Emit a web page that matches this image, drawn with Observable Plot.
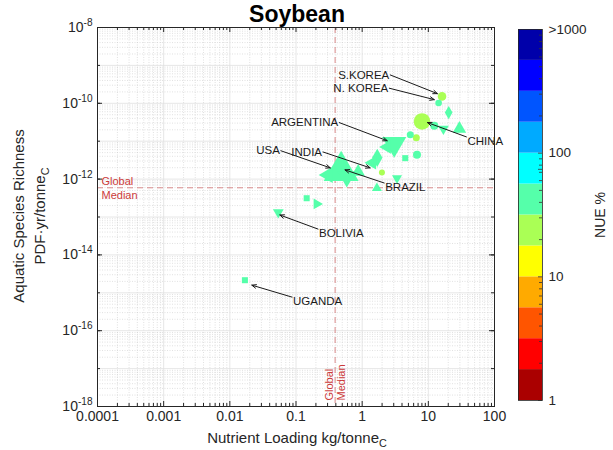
<!DOCTYPE html>
<html>
<head>
<meta charset="utf-8">
<script src="https://cdn.jsdelivr.net/npm/d3@7"></script>
<script src="https://cdn.jsdelivr.net/npm/@observablehq/plot@0.6"></script>
<style>
  body { margin: 0; background: #fff; font-family: "Liberation Sans", Arial, sans-serif; }
  #chart { position: relative; width: 613px; height: 450px; overflow: hidden; }
  #chart svg { position: absolute; top: 0; }
  .lbl { position: absolute; white-space: nowrap; color: #262626; line-height: 1; }
  .rot { transform: translate(-50%, -50%) rotate(-90deg); }
  .ctr { transform: translate(-50%, -50%); }
  .lbl sub { font-size: 0.72em; vertical-align: -0.4em; line-height: 0; }
</style>
</head>
<body>
<div id="chart"></div>
<script>
// ---- NUE colour classes (12 jet steps, four per decade from 1 % to 1000 %) ----
const nueColors = ["#aa0000", "#ff0000", "#ff5500", "#ffaa00", "#ffff00", "#aaff55",
                   "#55ffaa", "#00ffff", "#00aaff", "#0055ff", "#0000ff", "#0000aa"];
const nueBreaks = d3.range(1, 12).map(i => 10 ** (i / 4));
const nueTicks = [1, 10, 74, 100, 1000];
const nueTickLabels = ["1", "10", "74 GM", "100", ">1000"];

// ---- country footprints: soybean ----
const loading = [16.1, 14.3, 20.3, 8.03, 12.3, 16.9, 29.5, 6.58, 5.34, 3.05, 2.37, 4.48, 6.74,
                 1.69, 1.42, 1.99, 3.36, 1.67, 0.481, 0.305, 0.586, 0.87, 0.145, 0.206, 0.054, 0.0169];
const richness = [1.52e-10, 1.02e-10, 5.7e-11, 3.32e-11, 2.55e-11, 2.13e-11, 2.13e-11, 1.23e-11,
                  1.48e-11, 8.5e-12, 6.98e-12, 3.57e-12, 4.37e-12, 3.64e-12, 2.68e-12, 1.49e-12,
                  1.06e-12, 5.74e-13, 1.65e-12, 1.29e-12, 1.16e-12, 1.55e-12, 3.13e-13, 2.21e-13,
                  1.33e-13, 2.15e-15];
const nue = [24, 44, 41, 26, 47, 43, 39, 22, 45, 48, 42, 40, 46, 44, 49, 27, 41, 38, 45, 43,
             47, 42, 40, 44, 46, 42];
const production = [9.4, 5.6, 8.2, 35, 8.2, 8.2, 12.8, 6.3, 6.3, 41, 12.8, 5.9, 8.2, 15.4, 12.8,
                    4.6, 7, 7, 86, 18.4, 25, 12.8, 5.9, 8.2, 8.2, 5.9];
const group = ["A", "A", "C", "A", "A", "E", "D", "A", "A", "E", "F", "B", "A", "C", "F", "A",
               "E", "D", "D", "F", "E", "D", "B", "G", "E", "B"];

// ---- named countries: arrow tail (label anchor) and head ----
const countryNames = ["S.KOREA", "N. KOREA", "ARGENTINA", "CHINA", "USA", "INDIA", "BRAZIL", "BOLIVIA", "UGANDA"];
const tailLoad = [2.66, 2.57, 0.45, 37.6, 0.059, 0.256, 2.15, 0.215, 0.087];
const tailRichness = [5.6e-10, 2.5e-10, 3.1e-11, 1.3e-11, 5.6e-12, 5.2e-12, 7.9e-13, 4.8e-14, 7.7e-16];
const headLoad = [13.7, 12.3, 2.39, 9.7, 0.33, 1.32, 0.55, 0.057, 0.0215];
const headRichness = [1.8e-10, 1.25e-10, 1.03e-11, 3.1e-11, 1.98e-12, 1.98e-12, 1.75e-12, 1.13e-13, 1.59e-15];

// ---- global medians ----
const medianLoad = 0.39;
const medianRichness = 5.9e-13;

// ---- axis ticks ----
const xTicks = [1e-4, 1e-3, 1e-2, 1e-1, 1, 10, 100];
const xTickLabels = ["0.0001", "0.001", "0.01", "0.1", "1", "10", "100"];
const yTicks = [1e-18, 1e-16, 1e-14, 1e-12, 1e-10, 1e-8];

// marker shape per group
const groupSymbol = {A: "circle", B: "square", C: "diamond", D: "triangle", E: "triangle", F: "triangle", G: "triangle"};
const groupTurn = {A: 0, B: 0, C: 0, D: 0, E: 180, F: 270, G: 90};

const points = loading.map((x, i) => ({
  x, y: richness[i], nue: nue[i], prod: production[i], g: group[i]
})).sort((a, b) => b.prod - a.prod);

const notes = countryNames.map((name, i) => ({
  name, x1: tailLoad[i], y1: tailRichness[i], x2: headLoad[i], y2: headRichness[i],
  anchor: headLoad[i] > tailLoad[i] ? "end" : "start"
}));

const decades = (lo, hi) => d3.range(lo, hi + 1).map(e => 10 ** e);
const minors = (lo, hi) => d3.range(lo, hi).flatMap(e => d3.range(2, 10).map(m => m * 10 ** e));

const xMajor = decades(-4, 2), xMinor = minors(-4, 2);
const yMajor = decades(-18, -8), yMinor = minors(-18, -8);

const W = 613, H = 450, mL = 97, mR = 119, mT = 27, mB = 44;
const plotW = W - mL - mR, plotH = H - mT - mB;
const ink = "#262626";
const medianColor = "#d98a8a";
const font = '"Liberation Sans", Arial, sans-serif';

const color = {type: "threshold", domain: nueBreaks, range: nueColors};

const main = Plot.plot({
  width: W, height: H,
  marginLeft: mL, marginRight: mR, marginTop: mT, marginBottom: mB,
  style: {fontFamily: font, fontSize: "13px", color: ink, background: "transparent"},
  x: {type: "log", domain: [1e-4, 100], axis: null},
  y: {type: "log", domain: [1e-18, 1e-8], axis: null},
  color,
  r: {type: "sqrt", domain: [0, 100], range: [0, 14]},
  marks: [
    // grid
    Plot.ruleX(xMinor, {x: d => d, stroke: "#cccccc", strokeWidth: 0.6, strokeDasharray: "1,1.5"}),
    Plot.ruleY(yMinor, {y: d => d, stroke: "#cccccc", strokeWidth: 0.6, strokeDasharray: "1,1.5"}),
    Plot.ruleX(xMajor, {x: d => d, stroke: "#e0e0e0", strokeWidth: 0.8}),
    Plot.ruleY(yMajor, {y: d => d, stroke: "#e0e0e0", strokeWidth: 0.8}),
    // global medians
    Plot.ruleX([medianLoad], {x: d => d, stroke: medianColor, strokeWidth: 1, strokeDasharray: "6,4"}),
    Plot.ruleY([medianRichness], {y: d => d, stroke: medianColor, strokeWidth: 1, strokeDasharray: "6,4"}),
    Plot.text([medianRichness], {x: 1e-4, y: d => d, text: () => "Global\nMedian", textAnchor: "start",
      dx: 4, lineHeight: 1.2, fill: "#cc3a3a", fontSize: 11}),
    Plot.text([medianLoad], {x: d => d, y: 1e-18, text: () => "Global\nMedian", textAnchor: "start",
      rotate: -90, dy: -6, lineHeight: 1.05, fill: "#cc3a3a", fontSize: 11}),
    // countries
    Plot.dot(points, {
      x: "x", y: "y", r: "prod", fill: "nue",
      symbol: d => groupSymbol[d.g], rotate: d => groupTurn[d.g]
    }),
    // call-outs
    Plot.arrow(notes, {x1: "x1", y1: "y1", x2: "x2", y2: "y2", stroke: "#1a1a1a", strokeWidth: 1,
      headLength: 7, headAngle: 45}),
    Plot.text(notes.filter(d => d.anchor === "end"), {x: "x1", y: "y1", text: "name", textAnchor: "end",
      dx: -1, fill: "#1a1a1a", fontSize: 11.5}),
    Plot.text(notes.filter(d => d.anchor === "start"), {x: "x1", y: "y1", text: "name", textAnchor: "start",
      dx: 1, dy: 4, fill: "#1a1a1a", fontSize: 11.5}),
    // box and inward ticks
    Plot.frame({stroke: ink, strokeWidth: 1}),
    Plot.tickX(xMajor, {x: d => d, insetTop: plotH - 5, stroke: ink}),
    Plot.tickX(xMajor, {x: d => d, insetBottom: plotH - 5, stroke: ink}),
    Plot.tickX(xMinor, {x: d => d, insetTop: plotH - 3, stroke: ink}),
    Plot.tickX(xMinor, {x: d => d, insetBottom: plotH - 3, stroke: ink}),
    Plot.tickY(yTicks, {y: d => d, insetRight: plotW - 5, stroke: ink}),
    Plot.tickY(yTicks, {y: d => d, insetLeft: plotW - 5, stroke: ink}),
    Plot.tickY(yMajor, {y: d => d, insetRight: plotW - 3, stroke: ink}),
    Plot.tickY(yMajor, {y: d => d, insetLeft: plotW - 3, stroke: ink}),
    Plot.axisX(xTicks, {tickSize: 0, tickPadding: 5, fontSize: 14, fill: ink,
      tickFormat: d => xTickLabels[xTicks.indexOf(d)]}),
    Plot.axisY(yTicks, {tickSize: 0, tickPadding: 5, fontSize: 14, fill: ink,
      tickFormat: d => String(Math.round(Math.log10(d)))})
  ]
});

// y tick labels as 10 with a raised exponent
d3.select(main).selectAll('g[aria-label="y-axis tick label"] text').each(function () {
  const exp = this.textContent;
  const t = d3.select(this).text("");
  t.append("tspan").text("10");
  t.append("tspan").attr("dy", "-0.6em").attr("font-size", "0.72em").text(exp);
});

// ---- colour bar ----
const bins = nueColors.map((c, i) => ({lo: 10 ** (i / 4), hi: 10 ** ((i + 1) / 4), mid: 10 ** ((i + 0.5) / 4)}));
const barMinor = minors(0, 3);
const barW = 24;
const colorbar = Plot.plot({
  width: 113, height: H,
  marginLeft: 18, marginRight: 113 - 18 - barW, marginTop: 29, marginBottom: 50,
  style: {fontFamily: font, fontSize: "13px", color: ink, background: "transparent"},
  x: {domain: [0, 1], axis: null},
  y: {type: "log", domain: [1, 1000], axis: null},
  color,
  marks: [
    Plot.rect(bins, {x1: () => 0, x2: () => 1, y1: "lo", y2: "hi", fill: "mid"}),
    Plot.tickY(barMinor, {y: d => d, insetLeft: barW - 3, stroke: "#333", strokeWidth: 0.8}),
    Plot.tickY(nueTicks, {y: d => d, insetLeft: barW - 4, stroke: "#333", strokeWidth: 0.8}),
    Plot.frame({stroke: ink, strokeWidth: 0.8}),
    Plot.axisY(nueTicks, {anchor: "right", tickSize: 0, tickPadding: 6, fontSize: 13.5, fill: ink,
      tickFormat: d => nueTickLabels[nueTicks.indexOf(d)]})
  ]
});
colorbar.style.left = "500px";

const chart = document.getElementById("chart");
chart.append(main, colorbar);

// ---- titles ----
const addLabel = (html, x, y, cls, extra) => {
  const el = document.createElement("div");
  el.className = "lbl " + cls;
  el.innerHTML = html;
  el.style.left = x + "px";
  el.style.top = y + "px";
  Object.assign(el.style, extra || {});
  chart.append(el);
};
addLabel("Soybean", 297, 14, "ctr", {fontSize: "23px", fontWeight: "bold", color: "#000"});
addLabel("Aquatic Species Richness", 18, 216, "rot", {fontSize: "15px"});
addLabel("PDF·yr/tonne<sub>C</sub>", 39, 216, "rot", {fontSize: "15px"});
addLabel("Nutrient Loading kg/tonne<sub>C</sub>", 297, 437, "ctr", {fontSize: "15px"});
addLabel("NUE %", 600, 215, "rot", {fontSize: "14px"});
</script>
</body>
</html>
